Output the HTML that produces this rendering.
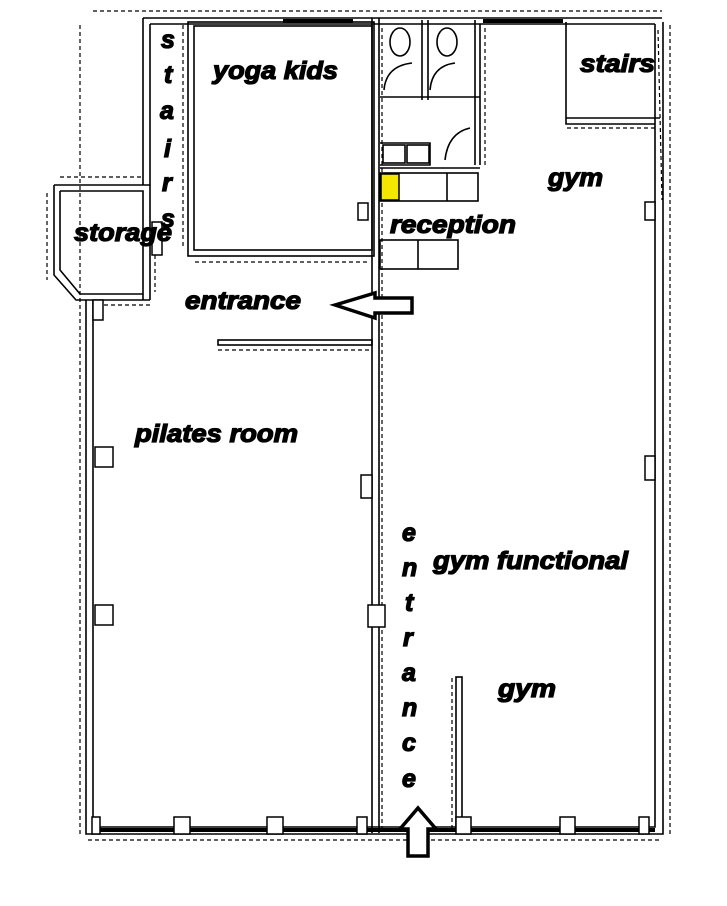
<!DOCTYPE html>
<html><head><meta charset="utf-8"><style>
html,body{margin:0;padding:0;background:#fff;width:727px;height:906px;overflow:hidden}
text.l{font-family:"Liberation Sans",sans-serif;font-weight:bold;font-style:italic;font-size:25px;fill:#000;stroke:#000;stroke-width:1.3}
</style></head><body>
<svg width="727" height="906" viewBox="0 0 727 906" xmlns="http://www.w3.org/2000/svg">
<g fill="none" stroke="#000" stroke-width="1.2" stroke-dasharray="4,3">
<line x1="93" y1="11" x2="662" y2="11"/>
<line x1="80" y1="25" x2="80" y2="836"/>
<line x1="670" y1="25" x2="670" y2="836"/>
<line x1="88" y1="840" x2="662" y2="840"/>
<line x1="60" y1="177" x2="142" y2="177"/>
<line x1="47" y1="193" x2="47" y2="280"/>
<line x1="155" y1="255" x2="155" y2="292"/>
<line x1="183" y1="25" x2="183" y2="248"/>
<line x1="195" y1="262" x2="370" y2="262"/>
<line x1="218" y1="350" x2="370" y2="350"/>
<line x1="382" y1="28" x2="382" y2="830"/>
<line x1="485" y1="28" x2="485" y2="165"/>
<line x1="567" y1="128" x2="657" y2="128"/>
<line x1="658" y1="30" x2="662" y2="200"/>
<line x1="452" y1="678" x2="452" y2="828"/>
<line x1="97" y1="305" x2="150" y2="305"/>
</g>
<g fill="none" stroke="#000" stroke-width="1.6">
<path d="M86 300 V834 H663 V22"/>
<path d="M93 300 V827 H655 V24"/>
<path d="M143 18 H662 M150 24 H655"/>
<path d="M143 18 V185 M150 24 V300"/>
<path d="M54 185 H150 M60 191 H143 V300"/>
<path d="M54 185 V275 L76 300 H150 M60 191 V270 L80 294 H143"/>
<rect x="188" y="22" width="186" height="234"/>
<rect x="194" y="26" width="178" height="224"/>
<path d="M372 18 V833 M379 18 V833"/>
<rect x="218" y="340" width="154" height="5"/>
<path d="M380 97 H480 M422 20 V100 M428 20 V100 M475 20 V165 M480 24 V165"/>
<path d="M380 143 H430 V165 H380"/>
<rect x="383" y="145" width="22" height="18"/><rect x="407" y="145" width="22" height="18"/>
<path d="M380 168 H480"/>
<ellipse cx="400" cy="42" rx="10" ry="14"/><ellipse cx="447" cy="42" rx="10" ry="14"/>
<path d="M384 90 Q386 66 412 63 M430 90 Q432 66 455 63 M445 160 Q448 133 470 128"/>
<rect x="380" y="173" width="98" height="28"/>
<line x1="447" y1="173" x2="447" y2="201"/>
<rect x="380" y="240" width="78" height="29"/>
<line x1="418" y1="240" x2="418" y2="269"/>
<path d="M566 22 V118 H660 M566 118 V124 H655"/>
<rect x="456" y="677" width="6" height="152"/>
</g>
<rect x="381" y="174" width="18" height="26" fill="#f4e600" stroke="#000" stroke-width="1.5"/>
<rect x="283" y="19" width="70" height="4" fill="#000"/>
<rect x="483" y="19" width="80" height="4" fill="#000"/>
<rect x="95" y="828" width="560" height="4" fill="#000"/>
<g fill="#fff" stroke="#000" stroke-width="1.5">
<rect x="93" y="300" width="10" height="20"/>
<rect x="95" y="447" width="18" height="20"/>
<rect x="95" y="605" width="18" height="20"/>
<rect x="361" y="475" width="11" height="23"/>
<rect x="368" y="605" width="17" height="22"/>
<rect x="645" y="456" width="10" height="24"/>
<rect x="645" y="202" width="10" height="18"/>
<rect x="358" y="203" width="10" height="17"/>
<rect x="152" y="222" width="10" height="33"/>
<rect x="92" y="817" width="8" height="17"/>
<rect x="174" y="817" width="16" height="17"/>
<rect x="267" y="817" width="16" height="17"/>
<rect x="357" y="817" width="10" height="17"/>
<rect x="456" y="817" width="15" height="17"/>
<rect x="560" y="817" width="15" height="17"/>
<rect x="639" y="817" width="10" height="17"/>
</g>
<path d="M335 305 L375 293 V298 H412 V313 H375 V318 Z" fill="#fff" stroke="#000" stroke-width="3.5"/>
<path d="M418 808 L436 829 H428 V856 H408 V829 H400 Z" fill="#fff" stroke="#000" stroke-width="3.5"/>
<g>
<text class="l" x="213" y="79" textLength="125" lengthAdjust="spacingAndGlyphs">yoga kids</text>
<text class="l" x="580" y="72" textLength="75" lengthAdjust="spacingAndGlyphs">stairs</text>
<text class="l" x="74" y="241" textLength="98" lengthAdjust="spacingAndGlyphs">storage</text>
<text class="l" x="548" y="186" textLength="55" lengthAdjust="spacingAndGlyphs">gym</text>
<text class="l" x="390" y="233" textLength="126" lengthAdjust="spacingAndGlyphs">reception</text>
<text class="l" x="185" y="309" textLength="116" lengthAdjust="spacingAndGlyphs">entrance</text>
<text class="l" x="135" y="442" textLength="163" lengthAdjust="spacingAndGlyphs">pilates room</text>
<text class="l" x="433" y="569" textLength="195" lengthAdjust="spacingAndGlyphs">gym functional</text>
<text class="l" x="498" y="697" textLength="58" lengthAdjust="spacingAndGlyphs">gym</text>
<text class="l" x="161" y="48">s</text>
<text class="l" x="164" y="83">t</text>
<text class="l" x="160" y="119">a</text>
<text class="l" x="164" y="157">i</text>
<text class="l" x="162" y="191">r</text>
<text class="l" x="161" y="227">s</text>
<text class="l" x="402" y="541">e</text>
<text class="l" x="402" y="576">n</text>
<text class="l" x="405" y="611">t</text>
<text class="l" x="403" y="646">r</text>
<text class="l" x="402" y="681">a</text>
<text class="l" x="402" y="716">n</text>
<text class="l" x="402" y="751">c</text>
<text class="l" x="402" y="787">e</text>
</g>
</svg>
</body></html>
